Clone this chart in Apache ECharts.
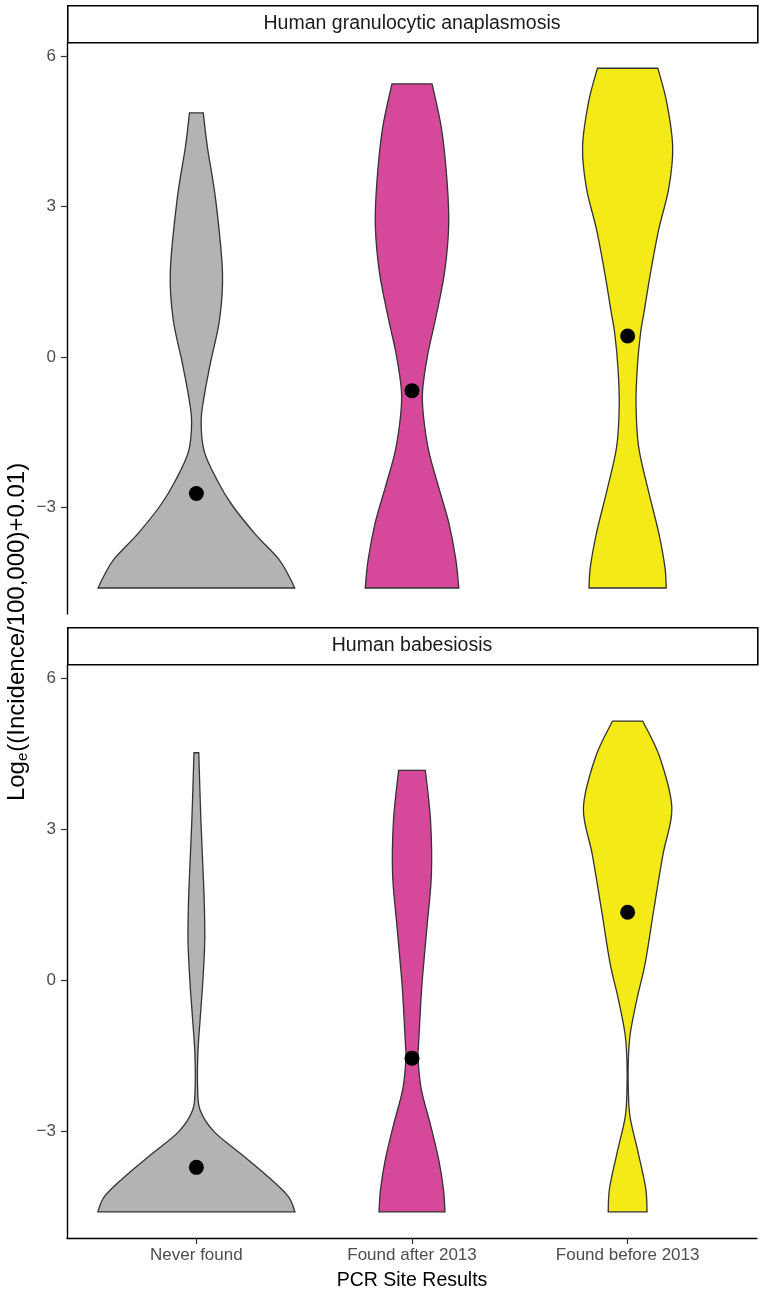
<!DOCTYPE html>
<html>
<head>
<meta charset="utf-8">
<script src="https://cdn.jsdelivr.net/npm/echarts@6/dist/echarts.min.js"></script>
<style>
html,body{margin:0;padding:0;background:#fff;}
#chart{width:767px;height:1300px;}
</style>
</head>
<body>
<div id="chart"></div>
<script>
// ---------- data ----------
const categories = ['Never found', 'Found after 2013', 'Found before 2013'];
const panelTitles = ['Human granulocytic anaplasmosis', 'Human babesiosis'];
const yTicks = [-3, 0, 3, 6];
const xTicks = [1, 2, 3];

// violin profiles: [log value, half-width in category units], bottom -> top
const hgaNever = [[-4.605,0.456],[-4.39,0.432],[-4.03,0.382],[-3.53,0.273],[-2.96,0.167],[-2.46,0.097],[-1.89,0.037],[-1.30,0.022],[-0.81,0.035],[-0.10,0.066],[0.76,0.108],[1.69,0.121],[3.12,0.090],[4.19,0.051],[4.87,0.032]];
const hgaAfter = [[-4.605,0.217],[-4.03,0.203],[-3.31,0.171],[-2.60,0.124],[-1.88,0.078],[-1.17,0.053],[-0.67,0.049],[0.05,0.073],[0.76,0.109],[1.69,0.151],[2.62,0.170],[3.48,0.163],[4.55,0.137],[5.45,0.093]];
const hgaBefore = [[-4.605,0.179],[-4.19,0.173],[-3.50,0.144],[-2.68,0.097],[-1.79,0.051],[-0.96,0.039],[-0.20,0.045],[0.48,0.060],[0.89,0.076],[1.65,0.105],[2.54,0.144],[3.37,0.191],[4.19,0.209],[5.09,0.181],[5.76,0.140]];
const babNever = [[-4.605,0.457],[-4.29,0.425],[-3.87,0.323],[-3.44,0.203],[-3.01,0.082],[-2.59,0.018],[-2.16,0.006],[-1.45,0.007],[-0.74,0.018],[-0.02,0.030],[0.83,0.039],[1.76,0.035],[3.18,0.021],[4.52,0.011]];
const babAfter = [[-4.605,0.153],[-4.16,0.146],[-3.59,0.125],[-2.88,0.086],[-2.17,0.043],[-1.56,0.028],[-1.31,0.030],[-0.74,0.037],[-0.03,0.047],[1.04,0.069],[2.10,0.090],[3.17,0.086],[4.17,0.062]];
const babBefore = [[-4.605,0.090],[-4.14,0.084],[-3.43,0.049],[-2.71,0.011],[-2.14,0.003],[-1.64,0.003],[-1.07,0.012],[-0.36,0.044],[0.35,0.082],[1.42,0.122],[2.50,0.164],[3.42,0.205],[4.42,0.150],[5.15,0.070]];

const hgaMedians = [-2.72, -0.67, 0.42];
const babMedians = [-3.72, -1.55, 1.35];

const violins = [[hgaNever, hgaAfter, hgaBefore], [babNever, babAfter, babBefore]];
const medians = [hgaMedians, babMedians];

// ---------- style ----------
const fills = ['#b3b3b3', '#d6489a', '#f4ea17'];
const yMin = -5.124, yMax = 6.284;
const STRIP_H = 37;
const grids = [
  {left: 67, width: 690, top: 42, height: 572},
  {left: 67, width: 690, top: 664, height: 574}
];
const FONT = 'Liberation Sans, Arial, sans-serif';

function catmull(pts) {
  let d = '';
  for (let i = 0; i < pts.length - 1; i++) {
    const p0 = pts[Math.max(i - 1, 0)], p1 = pts[i], p2 = pts[i + 1], p3 = pts[Math.min(i + 2, pts.length - 1)];
    const c1x = p1[0] + (p2[0] - p0[0]) / 6, c1y = p1[1] + (p2[1] - p0[1]) / 6;
    const c2x = p2[0] - (p3[0] - p1[0]) / 6, c2y = p2[1] - (p3[1] - p1[1]) / 6;
    d += ' C' + c1x.toFixed(2) + ' ' + c1y.toFixed(2) + ' ' + c2x.toFixed(2) + ' ' + c2y.toFixed(2) + ' ' + p2[0].toFixed(2) + ' ' + p2[1].toFixed(2);
  }
  return d;
}

const xAxes = [], yAxes = [], series = [], graphics = [];
for (let p = 0; p < 2; p++) {
  xAxes.push({
    type: 'value', gridIndex: p, min: 0.4, max: 3.6,
    axisLine: {show: p === 1, onZero: false, lineStyle: {color: '#000', width: 1.4}},
    axisTick: {show: p === 1, customValues: xTicks, length: 6, lineStyle: {color: '#333', width: 1.2}},
    axisLabel: {show: p === 1, customValues: xTicks, formatter: v => categories[Math.round(v) - 1], color: '#4d4d4d', fontSize: 17, fontFamily: FONT, margin: 9},
    splitLine: {show: false}
  });
  yAxes.push({
    type: 'value', gridIndex: p, min: yMin, max: yMax,
    axisLine: {show: true, onZero: false, lineStyle: {color: '#000', width: 1.4}},
    axisTick: {show: true, customValues: yTicks, length: 6, lineStyle: {color: '#333', width: 1.2}},
    axisLabel: {customValues: yTicks, formatter: v => String(v).replace('-', '\u2212'), color: '#4d4d4d', fontSize: 17, fontFamily: FONT, margin: 11},
    splitLine: {show: false}
  });
  series.push({
    type: 'custom', xAxisIndex: p, yAxisIndex: p,
    data: categories.map((c, i) => [i + 1, 0]),
    renderItem: function (params, api) {
      const k = params.dataIndex;
      const prof = violins[p][k];
      const c = k + 1;
      const right = prof.map(q => api.coord([c + q[1], q[0]]));
      const left = prof.slice().reverse().map(q => api.coord([c - q[1], q[0]]));
      let d = 'M' + right[0][0].toFixed(2) + ' ' + right[0][1].toFixed(2);
      d += catmull(right);
      d += ' L' + left[0][0].toFixed(2) + ' ' + left[0][1].toFixed(2);
      d += catmull(left);
      d += ' Z';
      return {
        type: 'path',
        shape: {pathData: d},
        style: {fill: fills[k], stroke: '#333333', lineWidth: 1.3}
      };
    },
    silent: true, animation: false, z: 2
  });
  series.push({
    type: 'scatter', xAxisIndex: p, yAxisIndex: p,
    data: medians[p].map((v, i) => [i + 1, v]),
    symbolSize: 15, itemStyle: {color: '#000', opacity: 1}, silent: true, animation: false, z: 3
  });
  const g = grids[p];
  graphics.push({
    type: 'rect', left: g.left, top: g.top - STRIP_H,
    shape: {x: 0, y: 0, width: g.width, height: STRIP_H},
    style: {fill: '#fff', stroke: '#000', lineWidth: 1.6}
  });
  graphics.push({
    type: 'text', x: g.left + g.width / 2, y: g.top - STRIP_H / 2,
    style: {text: panelTitles[p], fill: '#1a1a1a', font: '19.5px ' + FONT, align: 'center', verticalAlign: 'middle'}
  });
}

graphics.push({
  type: 'text', x: 412, y: 1281,
  style: {text: 'PCR Site Results', fill: '#000', font: '19.5px ' + FONT, align: 'center', verticalAlign: 'middle'}
});
graphics.push({
  type: 'text', x: 17, y: 632, rotation: Math.PI / 2,
  style: {
    text: '{a|Log}{s|e}{a|((Incidence/100,000)+0.01)}',
    align: 'center', verticalAlign: 'middle',
    rich: {
      a: {fontSize: 24, fontFamily: FONT, fill: '#000', lineHeight: 28},
      s: {fontSize: 15, fontFamily: FONT, fill: '#000', lineHeight: 28, padding: [11, 1, 0, 0]}
    }
  }
});

const chart = echarts.init(document.getElementById('chart'), null, {renderer: 'canvas'});
chart.setOption({
  animation: false,
  backgroundColor: '#fff',
  grid: grids,
  xAxis: xAxes,
  yAxis: yAxes,
  series: series,
  graphic: graphics
});
</script>
</body>
</html>
